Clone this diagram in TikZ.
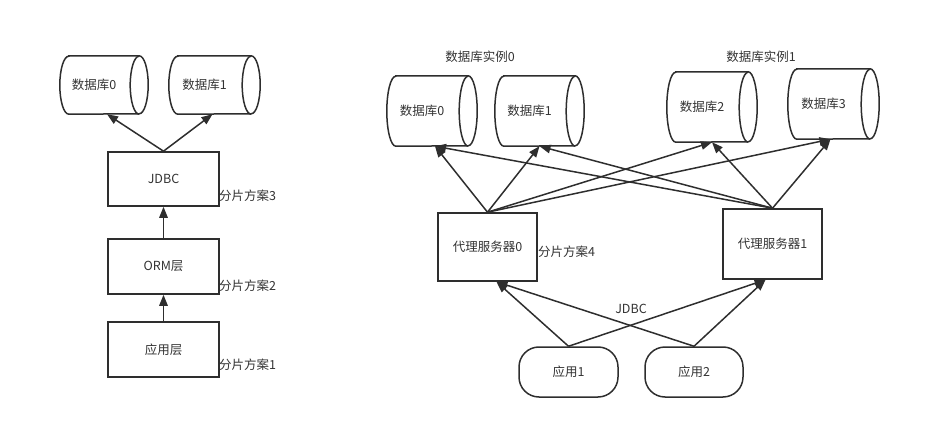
\documentclass[tikz,border=0pt]{standalone}
\usepackage{fontspec}
\setmainfont{Noto Sans CJK SC}
\usetikzlibrary{arrows.meta}
\definecolor{ln}{HTML}{2E2E2E}
\definecolor{tx}{HTML}{333333}
\newcommand{\mycyl}[2]{%
  \draw[cylline] ([xshift=9pt]#1.north west) -- ([xshift=-9pt]#1.north east)
    arc[start angle=90,end angle=-90,x radius=9pt,y radius=#2]
    -- ([xshift=9pt]#1.south west)
    arc[start angle=270,end angle=90,x radius=9pt,y radius=#2] -- cycle;
  \draw[cylline] ([xshift=-9pt]#1.south east)
    arc[start angle=-90,end angle=-270,x radius=9pt,y radius=#2];
}
\begin{document}
\begin{tikzpicture}[x=1pt,y=1pt,
  every node/.style={text=tx,font=\fontsize{12.5}{14}\selectfont},
  cylline/.style={draw=ln,line width=1.5pt},
  cylbox/.style={inner sep=0pt},
  boxnode/.style={draw=ln,line width=1.6pt,inner sep=0pt},
  appnode/.style={draw=ln,line width=1.5pt,inner sep=0pt,rounded corners=20pt},
  lbl/.style={inner sep=0pt},
  arr/.style={draw=ln,line width=1.5pt,-{Triangle[length=11pt,width=8.5pt]}}]
\useasboundingbox (0,0) rectangle (933,431);
% ---------- left ----------
\node[cylbox,minimum width=88pt,minimum height=58pt] (l0) at (104,346) {数据库0\kern20pt};
\node[cylbox,minimum width=91pt,minimum height=58pt] (l1) at (214.5,346) {数据库1\kern20pt};
\mycyl{l0}{29pt}
\mycyl{l1}{29pt}
\node[boxnode,minimum width=111pt,minimum height=54pt] (jdbc) at (163.5,252) {JDBC};
\node[boxnode,minimum width=111pt,minimum height=55pt] (orm) at (163.5,164.5) {ORM层};
\node[boxnode,minimum width=111pt,minimum height=55pt] (app) at (163.5,81.5) {应用层};
\node[lbl,anchor=west] (f3) at (219,235) {分片方案3};
\node[lbl,anchor=west] (f2) at (219,145) {分片方案2};
\node[lbl,anchor=west] (f1) at (219,66) {分片方案1};
\draw[arr] (jdbc.north) -- ([xshift=3pt]l0.south);
\draw[arr] (jdbc.north) -- ([xshift=-2pt]l1.south);
\draw[arr] (orm.north) -- (jdbc.south);
\draw[arr] (app.north) -- (orm.south);
% ---------- right ----------
\node[lbl] (inst0) at (480,374) {数据库实例0};
\node[lbl] (inst1) at (761,374) {数据库实例1};
\node[cylbox,minimum width=90pt,minimum height=70pt] (r0) at (432,320) {数据库0\kern20pt};
\node[cylbox,minimum width=89pt,minimum height=70pt] (r1) at (539.5,320) {数据库1\kern20pt};
\node[cylbox,minimum width=90pt,minimum height=70pt] (r2) at (712,324) {数据库2\kern20pt};
\node[cylbox,minimum width=91pt,minimum height=70pt] (r3) at (833.5,327) {数据库3\kern20pt};
\mycyl{r0}{35pt}
\mycyl{r1}{35pt}
\mycyl{r2}{35pt}
\mycyl{r3}{35pt}
\node[boxnode,minimum width=99pt,minimum height=68pt] (p0) at (487.5,184) {代理服务器0};
\node[boxnode,minimum width=99pt,minimum height=70pt] (p1) at (772.5,187) {代理服务器1};
\node[lbl,anchor=west] (f4) at (538,179) {分片方案4};
\node[lbl] (jl) at (631,122) {JDBC};
\node[appnode,minimum width=99pt,minimum height=50pt] (a1) at (568.5,59) {应用1};
\node[appnode,minimum width=98pt,minimum height=50pt] (a2) at (694,59) {应用2};
\foreach \p in {p0,p1}{
  \draw[arr] (\p.north) -- ([xshift=3pt]r0.south);
  \draw[arr] (\p.north) -- (r1.south);
  \draw[arr] (\p.north) -- (r2.south);
  \draw[arr] (\p.north) -- ([xshift=-3pt]r3.south);
}
\foreach \a in {a1,a2}{
  \draw[arr] (\a.north) -- ([xshift=9pt]p0.south);
  \draw[arr] (\a.north) -- ([xshift=-7pt]p1.south);
}
\end{tikzpicture}
\end{document}
